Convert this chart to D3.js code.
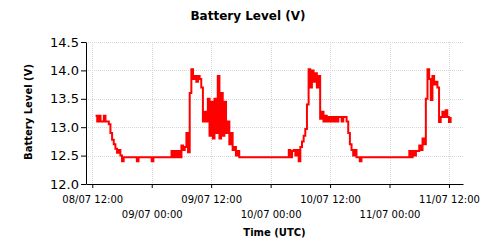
<!DOCTYPE html>
<html lang="en">
  <head>
    <meta charset="utf-8">
    <title>Battery Level</title>
    <script src="https://d3js.org/d3.v7.min.js"></script>
    <style>
      body { margin: 0; background: #fff; }
      text { font-family: 'DejaVu Sans', Verdana, sans-serif; }
    </style>
  </head>
  <body>
    <div id="chart"></div>
    <script>
      // samples every 20 min, starting 08/07 12:40 UTC
      const startTime = '2021-07-08T12:40:00Z';
      const stepMinutes = 20;
      const volts = [
        13.2,
        13.1, 13.2, 13.1,
        13.1, 13.2, 13.1,
        13.1, 13.05, 12.9,
        12.78, 12.7, 12.62,
        12.55, 12.6, 12.5,
        12.4, 12.47, 12.47,
        12.47, 12.47, 12.47,
        12.47, 12.47, 12.47,
        12.4, 12.47, 12.47,
        12.47, 12.47, 12.47,
        12.47, 12.47, 12.47,
        12.4, 12.47, 12.47,
        12.47, 12.47, 12.47,
        12.47, 12.47, 12.47,
        12.47, 12.47, 12.47,
        12.58, 12.47, 12.58,
        12.47, 12.58, 12.47,
        12.68, 12.6, 12.65,
        12.9, 12.56, 13.6,
        14.02, 13.85, 13.9,
        13.8, 13.9, 13.85,
        13.7, 13.1, 13.27,
        13.1, 13.5, 12.85,
        13.45, 12.8, 13.5,
        12.9, 13.9, 12.8,
        13.6, 12.85, 13.45,
        12.9, 13.1, 12.7,
        12.9, 12.6, 12.65,
        12.5, 12.58, 12.47,
        12.47, 12.47, 12.47,
        12.47, 12.47, 12.47,
        12.47, 12.47, 12.47,
        12.47, 12.47, 12.47,
        12.47, 12.47, 12.47,
        12.47, 12.47, 12.47,
        12.47, 12.47, 12.47,
        12.47, 12.47, 12.47,
        12.47, 12.47, 12.47,
        12.47, 12.47, 12.6,
        12.47, 12.58, 12.6,
        12.5, 12.6, 12.4,
        12.65, 12.75, 12.85,
        12.97, 13.4, 14.02,
        13.7, 14.0, 13.8,
        13.95, 13.7, 13.9,
        13.15, 13.27, 13.1,
        13.2, 13.1, 13.18,
        13.1, 13.18, 13.1,
        13.18, 13.1, 13.18,
        13.18, 13.1, 13.18,
        13.18, 13.1, 12.9,
        12.7, 12.6, 12.5,
        12.6, 12.47, 12.47,
        12.4, 12.47, 12.47,
        12.47, 12.47, 12.47,
        12.47, 12.47, 12.47,
        12.47, 12.47, 12.47,
        12.47, 12.47, 12.47,
        12.47, 12.47, 12.47,
        12.47, 12.47, 12.47,
        12.47, 12.47, 12.47,
        12.47, 12.47, 12.47,
        12.47, 12.47, 12.47,
        12.58, 12.47, 12.58,
        12.5, 12.58, 12.58,
        12.68, 12.6, 12.8,
        12.7, 13.5, 14.02,
        13.85, 13.48, 13.9,
        13.75, 13.8, 13.7,
        13.09, 13.18, 13.27,
        13.18, 13.3, 13.18,
        13.09, 13.18
      ];

      const xDomain = ['2021-07-08T10:44:00Z', '2021-07-11T14:50:00Z'];
      const xTicks = ['2021-07-08T12:00:00Z', '2021-07-09T00:00:00Z', '2021-07-09T12:00:00Z',
                      '2021-07-10T00:00:00Z', '2021-07-10T12:00:00Z', '2021-07-11T00:00:00Z',
                      '2021-07-11T12:00:00Z'];
      const yDomain = [12, 14.5];
      const yTicks = [12.0, 12.5, 13.0, 13.5, 14.0, 14.5];

      const titleText = 'Battery Level (V)';
      const xTitle = 'Time (UTC)';
      const yTitle = 'Battery Level (V)';

      let margin = {top: 42, right: 37, bottom: 66, left: 86};
      let width = 500 - margin.left - margin.right;
      let height = 250 - margin.top - margin.bottom;

      let svg = d3.select('#chart').append('svg')
        .attr('width', 500)
        .attr('height', 250);

      let canvas = svg.append('g')
        .attr('transform', 'translate(' + margin.left + ',' + margin.top + ')');

      let t0 = new Date(startTime);
      let data = volts.map((v, i) => ({
        time: new Date(t0.getTime() + i * stepMinutes * 60000),
        value: v
      }));

      let x = d3.scaleUtc()
        .domain(xDomain.map(d => new Date(d)))
        .range([0, width]);
      let y = d3.scaleLinear()
        .domain(yDomain)
        .range([height, 0]);

      let tickDates = xTicks.map(d => new Date(d));
      let fmt = d3.utcFormat('%d/%m %H:%M');

      // dotted, multi coloured grid
      let gridColors = ['#f4c4d0', '#c4d4f2', '#cce8d0'];
      let grid = canvas.append('g').attr('class', 'grid');
      gridColors.forEach((c, k) => {
        grid.selectAll('.gy' + k)
          .data(yTicks.slice(1))
          .enter().append('line')
          .attr('x1', 0).attr('x2', width)
          .attr('y1', d => Math.round(y(d)) + 0.5)
          .attr('y2', d => Math.round(y(d)) + 0.5)
          .attr('stroke', c)
          .attr('stroke-dasharray', '1,5')
          .attr('stroke-dashoffset', -k * 2);
        grid.selectAll('.gx' + k)
          .data(tickDates)
          .enter().append('line')
          .attr('x1', d => Math.round(x(d)) + 0.5)
          .attr('x2', d => Math.round(x(d)) + 0.5)
          .attr('y1', 0).attr('y2', height)
          .attr('stroke', c)
          .attr('stroke-dasharray', '1,5')
          .attr('stroke-dashoffset', -k * 2);
      });

      // series, drawn as steps like the logger output
      let line = d3.line()
        .curve(d3.curveStepAfter)
        .x(d => x(d.time))
        .y(d => y(d.value));

      canvas.append('path')
        .datum(data)
        .attr('fill', 'none')
        .attr('stroke', '#ff0000')
        .attr('stroke-width', 2)
        .attr('d', line);

      // axes
      let yAxis = canvas.append('g')
        .call(d3.axisLeft(y)
          .tickValues(yTicks)
          .tickFormat(d3.format('.1f'))
          .tickSize(5)
          .tickSizeOuter(0)
          .tickPadding(2));
      yAxis.selectAll('text')
        .attr('font-size', 13)
        .attr('font-family', "'DejaVu Sans', Verdana, sans-serif")
        .attr('fill', '#000');

      let xAxis = canvas.append('g')
        .attr('transform', 'translate(0,' + height + ')')
        .call(d3.axisBottom(x)
          .tickValues(tickDates)
          .tickFormat(fmt)
          .tickSize(4)
          .tickSizeOuter(0));
      xAxis.selectAll('text')
        .attr('font-size', 10)
        .attr('font-family', "'DejaVu Sans', Verdana, sans-serif")
        .attr('fill', '#000')
        .attr('y', (d, i) => i % 2 === 0 ? 11.5 : 27.2);

      svg.selectAll('.domain, .tick line').attr('stroke', '#000');

      // titles
      svg.append('text')
        .attr('x', 248)
        .attr('y', 19.5)
        .attr('text-anchor', 'middle')
        .attr('font-size', 12)
        .attr('font-weight', 'bold')
        .text(titleText);

      svg.append('text')
        .attr('x', margin.left + width / 2)
        .attr('y', 235.5)
        .attr('text-anchor', 'middle')
        .attr('font-size', 10)
        .attr('font-weight', 'bold')
        .text(xTitle);

      svg.append('text')
        .attr('transform', 'translate(31.5,112) rotate(-90)')
        .attr('text-anchor', 'middle')
        .attr('font-size', 10)
        .attr('font-weight', 'bold')
        .text(yTitle);
    </script>
  </body>
</html>
